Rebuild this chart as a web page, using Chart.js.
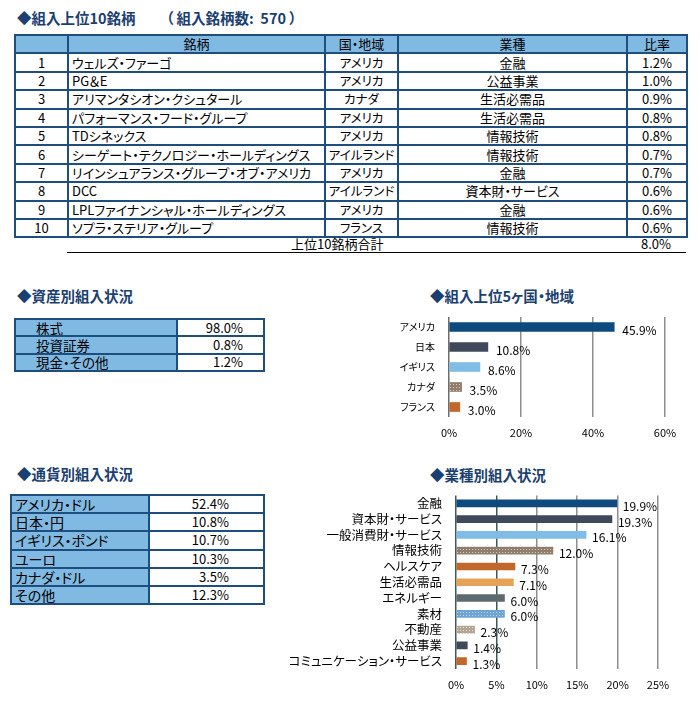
<!DOCTYPE html>
<html lang="ja">
<head>
<meta charset="UTF-8">
<title>組入状況</title>
<style>
  body { margin: 0; width: 700px; height: 704px; background: #fff; position: relative; overflow: hidden;
         font-family: "Noto Sans CJK JP", "Noto Sans", sans-serif; color: #000; font-feature-settings: "palt"; }
  .title { position: absolute; font-size: 14.5px; font-weight: bold; color: #1b3f70; line-height: 16px; white-space: nowrap; }
  table { position: absolute; border-collapse: collapse; font-size: 13px; table-layout: fixed; }
  td { border: 2px solid #1d4e7e; padding: 0 3px; line-height: 14px; white-space: nowrap; overflow: hidden; }
  .head td { background: #80b9e2; text-align: center; }
  .c { text-align: center; }
  .blue { background: #80b9e2; }
  .r { text-align: right; }
  .total { position: absolute; left: 67px; top: 236px; width: 619px; height: 16px; border-bottom: 1px solid #000; font-size: 13px; line-height: 16px; }
  canvas { position: absolute; }
</style>
</head>
<body>
<div class="title" style="left:17px;top:10px">◆組入上位10銘柄</div>
<div class="title" style="left:166px;top:10px">（ 組入銘柄数:&nbsp;&nbsp;570 ）</div>
<table id="topTable" style="left:14px;top:34px;width:672px"></table>
<div class="total"><span style="position:absolute;left:224px">上位10銘柄合計</span><span id="totalVal" style="position:absolute;left:574px"></span></div>

<div class="title" style="left:17px;top:288px">◆資産別組入状況</div>
<table id="assetTable" style="left:14px;top:318px;width:249px"></table>

<div class="title" style="left:430px;top:288px">◆組入上位5ヶ国・地域</div>
<canvas id="countryChart" width="310" height="140" style="left:380px;top:305px"></canvas>

<div class="title" style="left:17px;top:466px">◆通貨別組入状況</div>
<table id="currencyTable" style="left:10px;top:494px;width:253px"></table>

<div class="title" style="left:430px;top:467px">◆業種別組入状況</div>
<canvas id="sectorChart" width="420" height="215" style="left:270px;top:482px"></canvas>

<script src="https://cdn.jsdelivr.net/npm/chart.js"></script>
<script>
// 組入上位10銘柄
const topNames = ['ウェルズ・ファーゴ', 'PG＆E', 'アリマンタシオン・クシュタール', 'パフォーマンス・フード・グループ', 'TDシネックス',
  'シーゲート・テクノロジー・ホールディングス', 'リインシュアランス・グループ・オブ・アメリカ', 'DCC', 'LPLファイナンシャル・ホールディングス', 'ソプラ・ステリア・グループ'];
const topCountries = ['アメリカ', 'アメリカ', 'カナダ', 'アメリカ', 'アメリカ', 'アイルランド', 'アメリカ', 'アイルランド', 'アメリカ', 'フランス'];
const topSectors = ['金融', '公益事業', '生活必需品', '生活必需品', '情報技術', '情報技術', '金融', '資本財・サービス', '金融', '情報技術'];
const topRatios = [1.2, 1.0, 0.9, 0.8, 0.8, 0.7, 0.7, 0.6, 0.6, 0.6];
const topTotal = 8.0;

// 資産別
const assetLabels = ['株式', '投資証券', '現金・その他'];
const assetValues = [98.0, 0.8, 1.2];

// 通貨別
const currencyLabels = ['アメリカ・ドル', '日本・円', 'イギリス・ポンド', 'ユーロ', 'カナダ・ドル', 'その他'];
const currencyValues = [52.4, 10.8, 10.7, 10.3, 3.5, 12.3];

// 国・地域
const countryLabels = ['アメリカ', '日本', 'イギリス', 'カナダ', 'フランス'];
const countryValues = [45.9, 10.8, 8.6, 3.5, 3.0];

// 業種別
const sectorLabels = ['金融', '資本財・サービス', '一般消費財・サービス', '情報技術', 'ヘルスケア', '生活必需品',
  'エネルギー', '素材', '不動産', '公益事業', 'コミュニケーション・サービス'];
const sectorValues = [19.9, 19.3, 16.1, 12.0, 7.3, 7.1, 6.0, 6.0, 2.3, 1.4, 1.3];

const pct = v => v.toFixed(1) + '%';

// テーブル作成
let html = '<colgroup><col style="width:53px"><col style="width:257px"><col style="width:73px"><col style="width:229px"><col style="width:60px"></colgroup>';
html += '<tr class="head" style="height:18.4px"><td></td><td>銘柄</td><td style="padding:0">国・地域</td><td>業種</td><td>比率</td></tr>';
topNames.forEach((n, i) => {
  html += `<tr style="height:18.4px"><td class="c">${i + 1}</td><td>${n}</td><td class="c" style="padding:0;font-size:12.5px">${topCountries[i]}</td><td class="c">${topSectors[i]}</td><td class="c">${pct(topRatios[i])}</td></tr>`;
});
document.getElementById('topTable').innerHTML = html;
document.getElementById('totalVal').textContent = pct(topTotal);

html = '<colgroup><col style="width:162px"><col style="width:87px"></colgroup>';
assetLabels.forEach((l, i) => {
  html += `<tr style="height:17.3px"><td class="blue" style="padding-left:20px;font-size:13.5px">${l}</td><td class="r" style="padding-right:20px">${pct(assetValues[i])}</td></tr>`;
});
document.getElementById('assetTable').innerHTML = html;

html = '<colgroup><col style="width:138px"><col style="width:115px"></colgroup>';
currencyLabels.forEach((l, i) => {
  html += `<tr style="height:18.2px"><td class="blue" style="font-size:14px">${l}</td><td class="r" style="padding-right:34px;font-size:13px">${pct(currencyValues[i])}</td></tr>`;
});
document.getElementById('currencyTable').innerHTML = html;

// 点模様
function dots(base, dot) {
  const c = document.createElement('canvas');
  c.width = 3; c.height = 3;
  const g = c.getContext('2d');
  g.fillStyle = base; g.fillRect(0, 0, 3, 3);
  g.fillStyle = dot; g.fillRect(1, 1, 1, 1);
  return g.createPattern(c, 'repeat');
}

const navy = '#0e4a7e', slate = '#3e4a5a', light = '#7fbde6', orange = '#c0672b';
const countryColors = [navy, slate, light, dots('#8f7e6b', '#d8cbbb'), orange];
const sectorColors = [navy, slate, light, dots('#8f7e6b', '#d8cbbb'), orange, '#e6a358',
  '#5d6b6e', dots('#6fa3d4', '#b9d6f0'), dots('#b5a594', '#e6ddd2'), slate, orange];

// 値ラベル
const valueLabels = {
  id: 'valueLabels',
  afterDatasetsDraw(chart, args, opts) {
    const ctx = chart.ctx;
    const meta = chart.getDatasetMeta(0);
    ctx.save();
    ctx.font = opts.size + 'px "Noto Sans CJK JP"';
    ctx.fillStyle = '#000';
    ctx.textBaseline = 'middle';
    meta.data.forEach((bar, i) => {
      ctx.fillText(pct(chart.data.datasets[0].data[i]), bar.x + opts.offset, bar.y + 3);
    });
    ctx.restore();
  }
};

function makeChart(id, labels, values, colors, o) {
  return new Chart(document.getElementById(id), {
    type: 'bar',
    data: { labels: labels, datasets: [{ data: values, backgroundColor: colors, barThickness: o.thick }] },
    options: {
      indexAxis: 'y',
      responsive: false,
      animation: false,
      layout: { padding: { top: o.top, right: o.right, left: 0, bottom: 0 } },
      plugins: { legend: { display: false }, tooltip: { enabled: false }, valueLabels: { size: 12, offset: o.offset } },
      scales: {
        x: {
          min: 0, max: o.max,
          ticks: { stepSize: o.step, padding: 9, color: '#000', font: { size: 11, family: 'Noto Sans CJK JP' }, callback: v => v + '%' },
          grid: { color: o.gridColors, lineWidth: 1.5, drawTicks: false },
          border: { display: false },
          afterFit: s => { s.height = 28; }
        },
        y: {
          ticks: { autoSkip: false, padding: 6, color: '#000', font: { size: o.ySize, family: 'Noto Sans CJK JP' } },
          grid: { display: false },
          border: { display: false },
          afterFit: s => { s.width = o.yWidth; }
        }
      }
    },
    plugins: [valueLabels]
  });
}

makeChart('countryChart', countryLabels, countryValues, countryColors,
  { thick: 9, top: 12, right: 25, max: 60, step: 20, ySize: 10, yWidth: 69, offset: 8,
    gridColors: ['#6d6d6d', '#8e8e8e', '#8e8e8e', '#8e8e8e'] });

makeChart('sectorChart', sectorLabels, sectorValues, sectorColors,
  { thick: 7, top: 10, right: 32, max: 25, step: 5, ySize: 12.5, yWidth: 186, offset: 6,
    gridColors: ['#3d5858', '#3d5858', '#8e8e8e', '#8e8e8e', '#8e8e8e', '#8e8e8e'] });
</script>
</body>
</html>
